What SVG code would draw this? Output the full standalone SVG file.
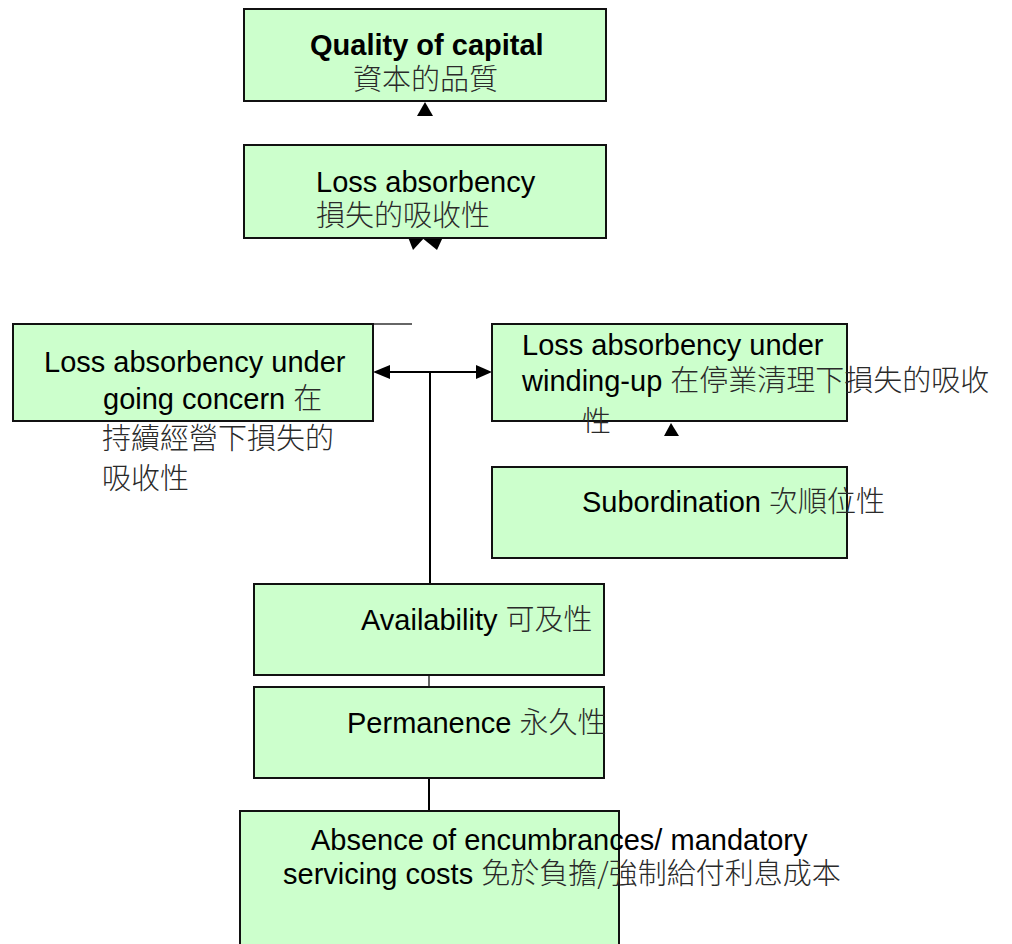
<svg xmlns="http://www.w3.org/2000/svg" width="1012" height="944" viewBox="0 0 1012 944">
  <style>
    .box { fill: #ccffcc; stroke: #111; stroke-width: 2; }
    .t { font-family: "Liberation Sans", "Noto Sans CJK TC", sans-serif; font-size: 29px; fill: #000; }
    .b { font-weight: bold; }
    .cjk { font-family: "Noto Sans CJK TC", "Noto Sans CJK SC", sans-serif; font-weight: 300; fill: #2a2a2a; }
    .wire { stroke: #000; stroke-width: 2; fill: none; }
    .thin { stroke: #333; stroke-width: 1.5; fill: none; }
    .head { fill: #000; }
  </style>
  <defs>
    <clipPath id="cutBelow">
      <rect x="0" y="0" width="1012" height="433"/>
    </clipPath>
  </defs>

  <rect width="1012" height="944" fill="#fff"/>

  <!-- connectors -->
  <g id="connectors">
    <polygon class="head" points="425,102 417,116 433,116"/>
    <polygon class="head" points="408,237 425,237 413,250"/>
    <polygon class="head" points="421,237 443,237 437,250"/>
    <line class="thin" x1="194" y1="324" x2="412" y2="324"/>
    <line class="wire" x1="388" y1="372" x2="478" y2="372"/>
    <polygon class="head" points="373,372 390,365 390,379"/>
    <polygon class="head" points="492,372 476,365 476,379"/>
    <line class="wire" x1="430" y1="372" x2="430" y2="584"/>
    <polygon class="head" points="671,423 664,436 679,436"/>
    <line class="thin" x1="429" y1="675" x2="429" y2="687"/>
    <line class="wire" x1="429" y1="778" x2="429" y2="811" stroke-width="2.5"/>
  </g>

  <g id="quality">
    <rect class="box" x="244" y="9" width="362" height="92"/>
    <text class="t b" x="310" y="55">Quality of capital</text>
    <text class="t cjk" x="353" y="90">資本的品質</text>
  </g>

  <g id="loss-absorbency">
    <rect class="box" x="244" y="145" width="362" height="93"/>
    <text class="t" x="316" y="192">Loss absorbency</text>
    <text class="t cjk" x="316" y="226">損失的吸收性</text>
  </g>

  <g id="going-concern">
    <rect class="box" x="13" y="324" width="360" height="97"/>
    <text class="t" x="44" y="372">Loss absorbency under</text>
    <text class="t" x="103" y="409">going concern <tspan class="cjk">在</tspan></text>
    <text class="t cjk" x="102" y="449">持續經營下損失的</text>
    <text class="t cjk" x="102" y="489">吸收性</text>
  </g>

  <g id="winding-up">
    <rect class="box" x="492" y="324" width="355" height="97"/>
    <text class="t" x="522" y="355">Loss absorbency under</text>
    <text class="t" x="522" y="391">winding-up <tspan class="cjk">在停業清理下損失的吸收</tspan></text>
    <text class="t cjk" x="582" y="432" clip-path="url(#cutBelow)">性</text>
  </g>

  <g id="subordination">
    <rect class="box" x="492" y="467" width="355" height="91"/>
    <text class="t" x="582" y="512">Subordination <tspan class="cjk">次順位性</tspan></text>
  </g>

  <g id="availability">
    <rect class="box" x="254" y="584" width="350" height="91"/>
    <text class="t" x="361" y="630">Availability <tspan class="cjk">可及性</tspan></text>
  </g>

  <g id="permanence">
    <rect class="box" x="254" y="687" width="350" height="91"/>
    <text class="t" x="347" y="733">Permanence <tspan class="cjk">永久性</tspan></text>
  </g>

  <g id="encumbrances">
    <rect class="box" x="240" y="811" width="379" height="140"/>
    <text class="t" x="311" y="850">Absence of encumbrances/ mandatory</text>
    <text class="t" x="283" y="884">servicing costs <tspan class="cjk">免於負擔/強制給付利息成本</tspan></text>
  </g>
</svg>
